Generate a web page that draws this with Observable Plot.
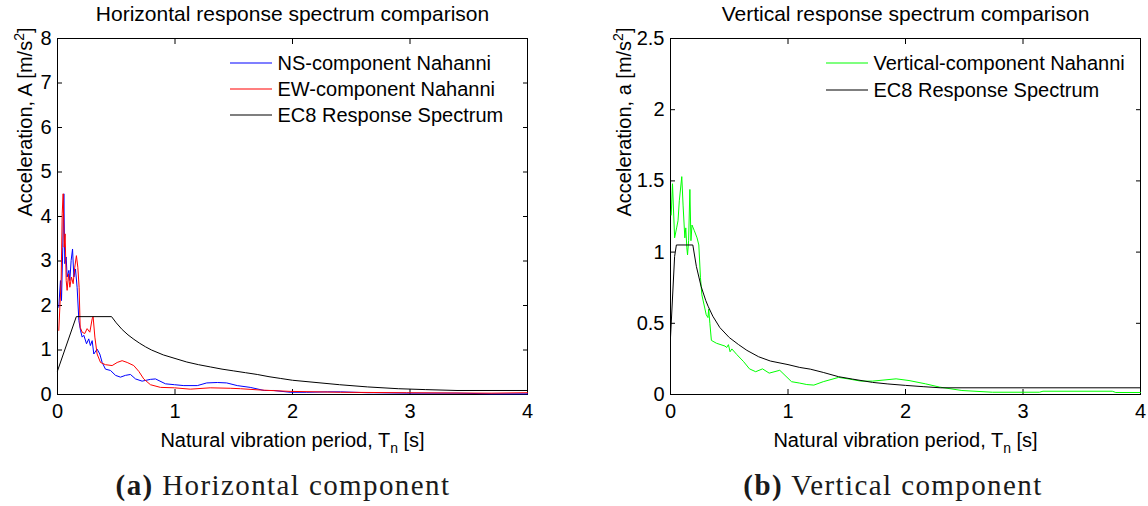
<!DOCTYPE html>
<html><head><meta charset="utf-8">
<script src="https://cdn.jsdelivr.net/npm/d3@7"></script>
<script src="https://cdn.jsdelivr.net/npm/@observablehq/plot@0.6"></script>
<style>
body{margin:0;background:#fff;}
#wrap{position:relative;width:1148px;height:506px;overflow:hidden;background:#fff;}
.panel{position:absolute;top:0;width:574px;height:460px;}
.cap{position:absolute;top:469px;width:574px;text-align:center;font-family:"Liberation Serif","Times New Roman",serif;font-size:29px;letter-spacing:1.4px;color:#1a1a1a;white-space:nowrap;}
.cap b{font-weight:bold;}
</style></head><body>
<div id="wrap"></div>
<script>
// ---------- data ----------
const xTicks = [0, 1, 2, 3, 4];
const yTicksH = [0, 1, 2, 3, 4, 5, 6, 7, 8];
const yTicksV = [0, 0.5, 1, 1.5, 2, 2.5];

const titleH = "Horizontal response spectrum comparison";
const titleV = "Vertical response spectrum comparison";
const xLabel = "Natural vibration period, T_{n} [s]";
const yLabelH = "Acceleration, A [m/s^{2}]";
const yLabelV = "Acceleration, a [m/s^{2}]";
const captionH = ["(a)", "Horizontal component"];
const captionV = ["(b)", "Vertical component"];

const namesH = ["NS-component Nahanni", "EW-component Nahanni", "EC8 Response Spectrum"];
const namesV = ["Vertical-component Nahanni", "EC8 Response Spectrum"];

// NS component (blue)
const periodNS = [0.011,0.025,0.034,0.045,0.054,0.062,0.074,0.082,0.097,0.105,0.116,0.128,0.139,0.153,0.167,0.182,0.196,0.21,0.224,0.247,0.266,0.28,0.295,0.309,0.337,0.36,0.38,0.408,0.451,0.494,0.536,0.578,0.621,0.664,0.72,0.791,0.834,0.919,0.996,1.075,1.19,1.27,1.36,1.44,1.53,1.64,1.76,1.84,1.98,2.12,2.3,2.41,2.64,2.69,3.0,3.4,3.69,3.97,4.0];
const accNS    = [1.96,2.56,2.11,3.31,4.51,2.94,3.09,2.64,2.79,2.56,3.01,3.27,2.64,2.82,2.41,1.66,1.44,1.29,1.33,1.14,1.25,1.10,1.21,0.91,1.02,0.91,0.72,0.57,0.54,0.43,0.39,0.43,0.45,0.35,0.30,0.34,0.35,0.24,0.22,0.20,0.20,0.26,0.27,0.26,0.20,0.16,0.09,0.09,0.05,0.05,0.06,0.06,0.04,0.04,0.03,0.03,0.015,0.015,0.015];

// EW component (red)
const periodEW = [0.011,0.02,0.031,0.04,0.048,0.057,0.065,0.074,0.082,0.094,0.105,0.119,0.133,0.147,0.161,0.173,0.184,0.193,0.21,0.232,0.252,0.275,0.295,0.303,0.318,0.337,0.366,0.408,0.465,0.508,0.55,0.593,0.649,0.692,0.734,0.791,0.876,0.996,1.13,1.3,1.47,1.557,1.73,1.98,2.41,2.97,3.69,3.97,4.0];
const accEW    = [1.44,1.96,2.56,4.06,4.51,3.31,3.61,2.56,2.34,2.71,2.41,2.64,2.49,2.86,3.12,2.86,2.41,1.51,1.40,1.37,1.48,1.40,1.70,1.75,1.29,0.91,0.72,0.67,0.65,0.72,0.76,0.72,0.65,0.52,0.35,0.22,0.16,0.15,0.12,0.15,0.14,0.13,0.10,0.07,0.05,0.04,0.03,0.04,0.04];

// EC8 horizontal design spectrum (black)
const periodEC8H = [0,0.16,0.46,0.5,0.55,0.6,0.65,0.7,0.75,0.8,0.9,1.0,1.1,1.2,1.3,1.4,1.5,1.6,1.7,1.8,1.9,2.0,2.2,2.4,2.64,2.9,3.13,3.4,4.0];
const accEC8H    = [0.53,1.75,1.75,1.61,1.46,1.34,1.24,1.15,1.07,1.0,0.89,0.81,0.73,0.67,0.62,0.57,0.53,0.49,0.45,0.40,0.36,0.32,0.27,0.22,0.17,0.13,0.11,0.09,0.09];

// Vertical component (green)
const periodVE = [0.006,0.017,0.035,0.052,0.064,0.075,0.096,0.107,0.122,0.13,0.139,0.145,0.154,0.165,0.174,0.183,0.203,0.226,0.241,0.255,0.267,0.304,0.319,0.325,0.335,0.348,0.391,0.464,0.478,0.493,0.507,0.522,0.565,0.623,0.672,0.725,0.783,0.84,0.93,1.03,1.1,1.16,1.22,1.3,1.43,1.51,1.62,1.72,1.92,2.03,2.17,2.29,2.48,2.74,3.14,3.17,3.76,3.79,4.0];
const accVE    = [1.26,1.48,1.10,1.17,1.22,1.36,1.53,1.33,1.10,1.17,1.03,0.98,1.08,1.44,1.08,1.19,1.15,1.10,1.05,0.82,0.70,0.56,0.54,0.60,0.50,0.38,0.36,0.34,0.33,0.35,0.30,0.32,0.28,0.23,0.18,0.16,0.18,0.15,0.17,0.09,0.08,0.07,0.066,0.09,0.12,0.11,0.094,0.094,0.11,0.098,0.075,0.052,0.028,0.016,0.016,0.023,0.023,0.014,0.014];

// EC8 vertical design spectrum (black)
const periodEC8V = [0,0.035,0.05,0.19,0.22,0.26,0.3,0.32,0.36,0.42,0.5,0.58,0.65,0.75,0.85,1.0,1.1,1.19,1.3,1.43,1.55,1.72,1.85,2.0,2.15,2.3,4.0];
const accEC8V    = [0.40,0.97,1.05,1.05,0.90,0.76,0.66,0.62,0.55,0.47,0.40,0.35,0.31,0.265,0.235,0.21,0.19,0.178,0.155,0.125,0.108,0.085,0.074,0.064,0.055,0.047,0.047];

const colorsH = ["#0000ff", "#ff0000", "#000000"];
const colorsV = ["#00ff00", "#000000"];

// ---------- helpers ----------
const rows = (T, A) => T.map((t, i) => ({t, a: A[i]}));
const fmt = d => String(d);

function richify(svg) {
  d3.select(svg).selectAll("text").each(function () {
    const s = this.textContent;
    if (!/[_^]\{/.test(s)) return;
    const parts = s.split(/([_^]\{[^}]*\})/).filter(p => p !== "");
    const sel = d3.select(this);
    sel.text(null);
    let shift = 0;
    for (const p of parts) {
      const m = p.match(/^([_^])\{([^}]*)\}$/);
      if (m) {
        const target = m[1] === "_" ? 6 : -8;
        sel.append("tspan").attr("dy", target - shift).attr("font-size", "14px").text(m[2]);
        shift = target;
      } else {
        const ts = sel.append("tspan").text(p);
        if (shift !== 0) ts.attr("dy", -shift);
        shift = 0;
      }
    }
  });
}

const W = 574, H = 460, MT = 38, MB = 66;

function makePanel({title, yLabel, yDomain, yTicks, series, names, colors, marginLeft, marginRight, legendLineDx, legendTextDx, legendDy, ylabelDx}) {
  const marks = [
    Plot.frame({stroke: "#000", strokeWidth: 1}),
    Plot.axisX({ticks: xTicks, tickSize: 0, tickPadding: 9, tickFormat: fmt}),
    Plot.axisY({ticks: yTicks, tickSize: 0, tickPadding: 6, tickFormat: fmt}),
    Plot.axisX({anchor: "bottom", ticks: xTicks, tickSize: -5, tickFormat: () => ""}),
    Plot.axisX({anchor: "top", ticks: xTicks, tickSize: -5, tickFormat: () => ""}),
    Plot.axisY({anchor: "left", ticks: yTicks, tickSize: -5, tickFormat: () => ""}),
    Plot.axisY({anchor: "right", ticks: yTicks, tickSize: -5, tickFormat: () => ""}),
  ];
  series.forEach((s, i) => {
    marks.push(Plot.line(rows(s[0], s[1]), {x: "t", y: "a", stroke: colors[i], strokeWidth: 1}));
  });
  names.forEach((n, i) => {
    marks.push(Plot.text([n], {frameAnchor: "top-right", dx: legendTextDx, dy: legendDy[i], textAnchor: "start", lineAnchor: "middle", fill: "#000"}));
  });
  marks.push(Plot.text([title], {frameAnchor: "top", dy: -24, lineAnchor: "middle", fill: "#000", fontSize: 21}));
  marks.push(Plot.text([xLabel], {frameAnchor: "bottom", dy: 46, lineAnchor: "middle", fill: "#000"}));
  marks.push(Plot.text([yLabel], {frameAnchor: "left", dx: ylabelDx, rotate: -90, lineAnchor: "middle", fill: "#000"}));

  const svg = Plot.plot({
    width: W, height: H,
    marginTop: MT, marginBottom: MB, marginLeft, marginRight,
    style: {fontFamily: "'Liberation Sans', Arial, Helvetica, sans-serif", fontSize: "20px", color: "#000", background: "#fff"},
    x: {domain: [0, 4], label: null},
    y: {domain: yDomain, label: null},
    marks
  });
  richify(svg);
  // legend sample lines
  const right = W - marginRight;
  const g = d3.select(svg).append("g").attr("class", "legend-lines");
  names.forEach((n, i) => {
    const cx = right + legendLineDx;
    g.append("line")
      .attr("x1", cx - 21).attr("x2", cx + 21)
      .attr("y1", MT + legendDy[i]).attr("y2", MT + legendDy[i])
      .attr("stroke", colors[i]).attr("stroke-width", 1.2);
  });
  return svg;
}

const wrap = document.getElementById("wrap");

function addPanel(left, svg, caption, capCenter) {
  const div = document.createElement("div");
  div.className = "panel"; div.style.left = left + "px";
  div.appendChild(svg);
  wrap.appendChild(div);
  const cap = document.createElement("div");
  cap.className = "cap";
  cap.style.left = (capCenter - 287) + "px";
  cap.innerHTML = `<b>${caption[0]}</b> ${caption[1]}`;
  wrap.appendChild(cap);
}

addPanel(0, makePanel({
  title: titleH, yLabel: yLabelH, yDomain: [0, 8], yTicks: yTicksH,
  series: [[periodNS, accNS], [periodEW, accEW], [periodEC8H, accEC8H]],
  names: namesH, colors: colorsH, marginLeft: 57, marginRight: 47,
  legendLineDx: -276, legendTextDx: -250, legendDy: [25, 51, 77], ylabelDx: -32
}), captionH, 283);

addPanel(574, makePanel({
  title: titleV, yLabel: yLabelV, yDomain: [0, 2.5], yTicks: yTicksV,
  series: [[periodVE, accVE], [periodEC8V, accEC8V]],
  names: namesV, colors: colorsV, marginLeft: 96, marginRight: 8,
  legendLineDx: -293, legendTextDx: -267, legendDy: [25, 52], ylabelDx: -46
}), captionV, 893);
</script>
</body></html>
